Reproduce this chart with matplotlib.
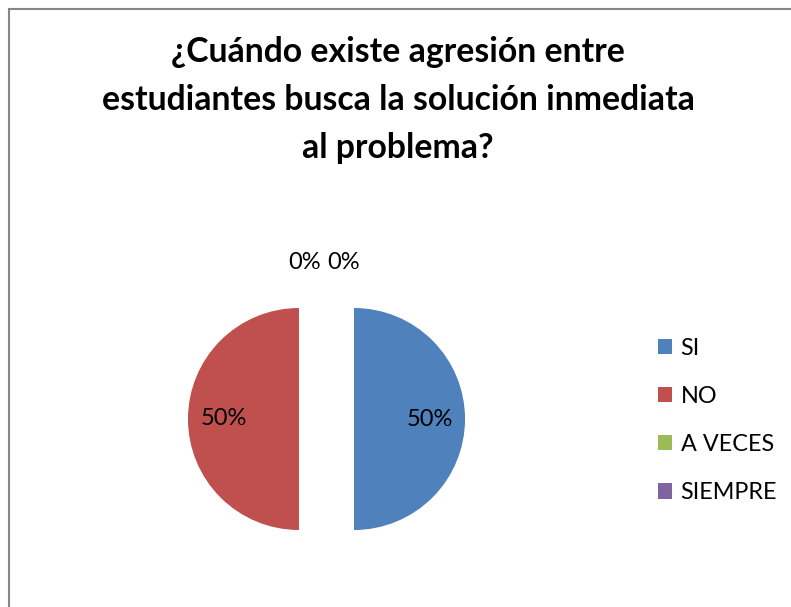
import matplotlib
matplotlib.use("Agg")
import matplotlib.pyplot as plt
from matplotlib.patches import Rectangle

categories = ["SI", "NO", "A VECES", "SIEMPRE"]
values = [50, 50, 0, 0]
colors = ["#4F81BD", "#C0504D", "#9BBB59", "#8064A2"]
title = "¿Cuándo existe agresión entre\nestudiantes busca la solución inmediata\nal problema?"

plt.rcParams["font.family"] = ["Lato", "DejaVu Sans"]

W, H = 791, 607
fig = plt.figure(figsize=(W / 100, H / 100), dpi=100)

# frame
fig.patches.append(Rectangle((8.5 / W, -0.1), 1.2, (H - 8.5) / H + 0.1,
                             transform=fig.transFigure, fill=False,
                             edgecolor="#868686", linewidth=1.5))

R = 111.0
cx, cy = 326.5, 419.0
side = 3 * R
ax = fig.add_axes([(cx - side / 2) / W, (H - cy - side / 2) / H, side / W, side / H])

wedges, texts, autotexts = ax.pie(
    values, colors=colors, startangle=90, counterclock=False,
    explode=[0.248] * len(values), autopct="%1.0f%%", pctdistance=0.68,
    textprops=dict(fontsize=17, color="black"),
    wedgeprops=dict(linewidth=0))
ax.set_xlim(-1.5, 1.5)
ax.set_ylim(-1.5, 1.5)
ax.set_aspect("equal")
ax.axis("off")

# zero-value labels sit side by side above the pie
zero_idx = [i for i, v in enumerate(values) if v == 0]
offsets = [-0.195, 0.155]
for k, i in enumerate(zero_idx):
    autotexts[i].set_position((offsets[k % 2], 1.41))

fig.text(398 / W, 1 - 100 / H, title, ha="center", va="center",
         fontsize=24.3, fontweight="bold", linespacing=1.62)

fig.legend(wedges, categories, loc="upper left",
           bbox_to_anchor=(658 / W, 1 - 338 / H), frameon=False,
           fontsize=16.8, handlelength=0.62, handleheight=0.62,
           handletextpad=0.35, labelspacing=1.16,
           borderpad=0, borderaxespad=0)

fig.savefig("out.png", dpi=100)
